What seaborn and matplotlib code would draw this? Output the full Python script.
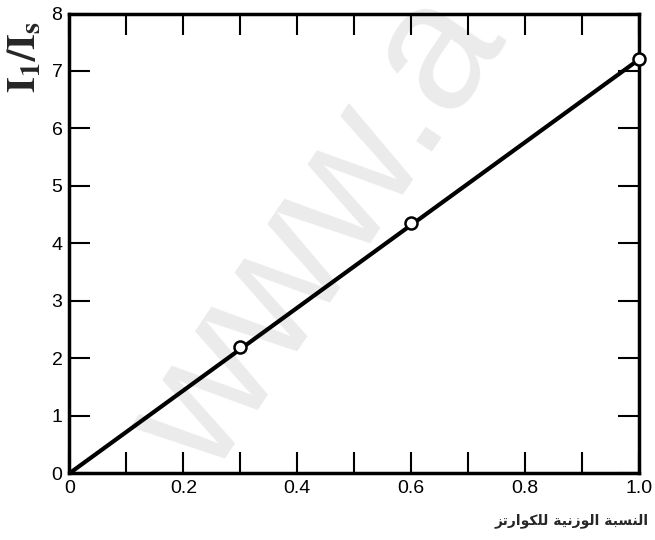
import matplotlib
matplotlib.use("Agg")
import matplotlib.pyplot as plt
import seaborn as sns
import pandas as pd
from matplotlib.ticker import MultipleLocator

# measured points (quartz weight fraction vs intensity ratio)
quartz_fraction = [0.3, 0.6, 1.0]
intensity_ratio = [2.2, 4.35, 7.2]

# straight calibration line through the origin
fit_x = [0.0, 1.0]
fit_y = [0.0, 7.2]

x_ticks = [0, 0.2, 0.4, 0.6, 0.8, 1.0]
x_tick_labels = ["0", "0.2", "0.4", "0.6", "0.8", "1.0"]
y_ticks = [0, 1, 2, 3, 4, 5, 6, 7, 8]

x_title = "النسبة الوزنية للكوارتز"
y_title = r"$\mathbf{I_1/I_s}$"
watermark = "www.a"

# contextual glyph forms (isolated, final, initial, medial) for the letters used
FORMS = {
    "ا": ("\uFE8D", "\uFE8E", None, None),
    "ل": ("\uFEDD", "\uFEDE", "\uFEDF", "\uFEE0"),
    "ن": ("\uFEE5", "\uFEE6", "\uFEE7", "\uFEE8"),
    "س": ("\uFEB1", "\uFEB2", "\uFEB3", "\uFEB4"),
    "ب": ("\uFE8F", "\uFE90", "\uFE91", "\uFE92"),
    "ة": ("\uFE93", "\uFE94", None, None),
    "و": ("\uFEED", "\uFEEE", None, None),
    "ز": ("\uFEAF", "\uFEB0", None, None),
    "ي": ("\uFEF1", "\uFEF2", "\uFEF3", "\uFEF4"),
    "ك": ("\uFED9", "\uFEDA", "\uFEDB", "\uFEDC"),
    "ر": ("\uFEAD", "\uFEAE", None, None),
    "ت": ("\uFE95", "\uFE96", "\uFE97", "\uFE98"),
}


def shape_arabic(text):
    """Pick joined glyph forms and reverse for left-to-right drawing."""
    out = []
    for i, ch in enumerate(text):
        if ch not in FORMS:
            out.append(ch)
            continue
        prev = text[i - 1] if i > 0 else " "
        nxt = text[i + 1] if i + 1 < len(text) else " "
        joins_prev = prev in FORMS and FORMS[prev][2] is not None
        joins_next = nxt in FORMS and FORMS[ch][2] is not None
        iso, fin, ini, med = FORMS[ch]
        if joins_prev and joins_next:
            out.append(med)
        elif joins_prev:
            out.append(fin)
        elif joins_next:
            out.append(ini)
        else:
            out.append(iso)
    return "".join(reversed(out))


sns.set_style("ticks")
plt.rcParams["font.family"] = ["Liberation Sans", "DejaVu Sans"]
plt.rcParams["mathtext.fontset"] = "stix"

fig = plt.figure(figsize=(6.55, 5.4), dpi=100)
ax = fig.add_axes([0.106, 0.1235, 0.8695, 0.8515])

# faint diagonal watermark behind the data (runs off the top edge, as in the scan)
ax.text(0.44, 0.52, watermark, transform=ax.transAxes, fontsize=130,
        color="#ebebeb", rotation=56, family="Liberation Sans",
        ha="center", va="center", clip_on=False, zorder=0)

line_df = pd.DataFrame({"x": fit_x, "y": fit_y})
sns.lineplot(data=line_df, x="x", y="y", ax=ax, color="black",
             linewidth=3, zorder=2)

pts_df = pd.DataFrame({"x": quartz_fraction, "y": intensity_ratio})
sns.scatterplot(data=pts_df, x="x", y="y", ax=ax, s=75,
                facecolor="white", edgecolor="black", linewidth=1.8,
                zorder=3, clip_on=False)

ax.set_xlim(0, 1.0)
ax.set_ylim(0, 8)
ax.set_xticks(x_ticks)
ax.set_xticklabels(x_tick_labels)
ax.xaxis.set_minor_locator(MultipleLocator(0.1))
ax.set_yticks(y_ticks)

ax.tick_params(axis="both", which="both", direction="in", top=True,
               right=True, length=15, width=1.5, colors="black",
               labelsize=14)
ax.tick_params(axis="x", pad=5)
ax.tick_params(axis="y", pad=5)

for side in ["top", "bottom", "left", "right"]:
    ax.spines[side].set_linewidth(2.5)
    ax.spines[side].set_color("black")

ax.set_xlabel("")
ax.set_ylabel("")

fig.text(0.037, 0.895, y_title, rotation=90, fontsize=29,
         ha="center", va="center")
fig.text(0.99, 0.035, shape_arabic(x_title), fontsize=10,
         family="DejaVu Sans", fontweight="bold", ha="right", va="center")

fig.savefig("out.png", dpi=100)
plt.close(fig)
